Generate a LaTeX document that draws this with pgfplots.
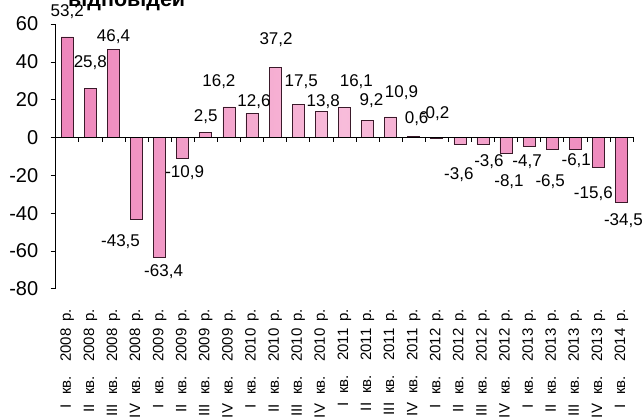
\documentclass[border=0pt]{standalone}
\usepackage{fontspec}
\setmainfont{Liberation Sans}
\usepackage{pgfplots}
\usepackage{pgfplotstable}
\pgfplotsset{compat=1.18}

\definecolor{barpink}{HTML}{EE86BB}
\definecolor{barlight}{HTML}{F8BCDA}
\definecolor{baredge}{HTML}{3A1A2A}

% quarter label: "I кв. 2008 р."
\newcommand{\q}[2]{#1\hspace{0.6em}кв.\hspace{0.95em}#2\hspace{0.45em}р.}

% x = quarter index, y = value, dx/dy = label offset from bar end
\pgfplotstableread{
x  y     dx  dy
0  53.2   0   25
1  25.8   0   26
2  46.4   0   13
3  -43.5 -16 -22
4  -63.4  4  -14
5  -10.9  2  -15
6  2.5    0   16
7  16.2  -10  25
8  12.6   2   12
9  37.2   1   27
10 17.5   3   23
11 13.8   2   10
12 16.1  12   25
13 9.2    4   19
14 10.9  11   24
15 0.6    3   18
16 -0.2  -2   24
17 -3.6  -1  -30
18 -3.6   6  -17
19 -8.1   3  -29
20 -4.7  -2  -15
21 -6.5  -2  -32
22 -6.1   1  -12
23 -15.6 -5  -27
24 -34.5  2  -18
}\growth

\begin{document}
\begin{tikzpicture}
\begin{axis}[
    at={(0,0)}, anchor=south west,
    scale only axis, width=577.3pt, height=264.8pt,
    xmin=-0.5, xmax=24.5, ymin=-80, ymax=60,
    axis y line*=left, axis x line*=bottom,
    x axis line style={draw=none},
    y axis line style={line width=0.6pt},
    ytick={-80,-60,...,60},
    tick align=outside, major tick length=5pt,
    ytick style={black, line width=0.6pt},
    xtick style={draw=none},
    yticklabel style={font=\fontsize{20}{20}\selectfont},
    yticklabel shift=9pt,
    /pgf/number format/assume math mode=true,
    xtick={0,...,24},
    xticklabels={\q{I}{2008},\q{II}{2008},\q{III}{2008},\q{IV}{2008},
                 \q{I}{2009},\q{II}{2009},\q{III}{2009},\q{IV}{2009},
                 \q{I}{2010},\q{II}{2010},\q{III}{2010},\q{IV}{2010},
                 \q{I}{2011},\q{II}{2011},\q{III}{2011},\q{IV}{2011},
                 \q{I}{2012},\q{II}{2012},\q{III}{2012},\q{IV}{2012},
                 \q{I}{2013},\q{II}{2013},\q{III}{2013},\q{IV}{2013},
                 \q{I}{2014}},
    xticklabel style={rotate=90, anchor=east, font=\fontsize{15}{15}\selectfont},
    xticklabel shift=12pt,
    clip=false,
]
\addplot[ybar, bar width=12pt, draw=baredge, line width=0.6pt,
    left color=barpink, right color=barpink, middle color=barlight,
    nodes near coords, point meta=y,
    visualization depends on={\thisrow{dx} \as \labdx},
    visualization depends on={\thisrow{dy} \as \labdy},
    nodes near coords style={anchor=center, xshift=\labdx pt, yshift=\labdy pt,
        text=black, font=\fontsize{17}{17}\selectfont,
        /pgf/number format/.cd, fixed, fixed zerofill, precision=1,
        use comma, assume math mode=true},
] table[x=x, y=y] {\growth};

\draw[line width=0.6pt] (axis cs:-0.5,0) -- (axis cs:24.5,0);
\pgfplotsinvokeforeach{-0.5,0.5,...,24.5}{
    \draw[line width=0.6pt] (axis cs:#1,0) -- ++(0pt,-5pt);
}
\end{axis}

\node[anchor=base west, inner sep=0pt, font=\bfseries\fontsize{21.5}{21.5}\selectfont]
    at (12.3pt,281.8pt) {відповідей};

\pgfresetboundingbox
\path[use as bounding box] (-55.7pt,-131.2pt) rectangle (587.3pt,288.8pt);
\end{tikzpicture}
\end{document}
